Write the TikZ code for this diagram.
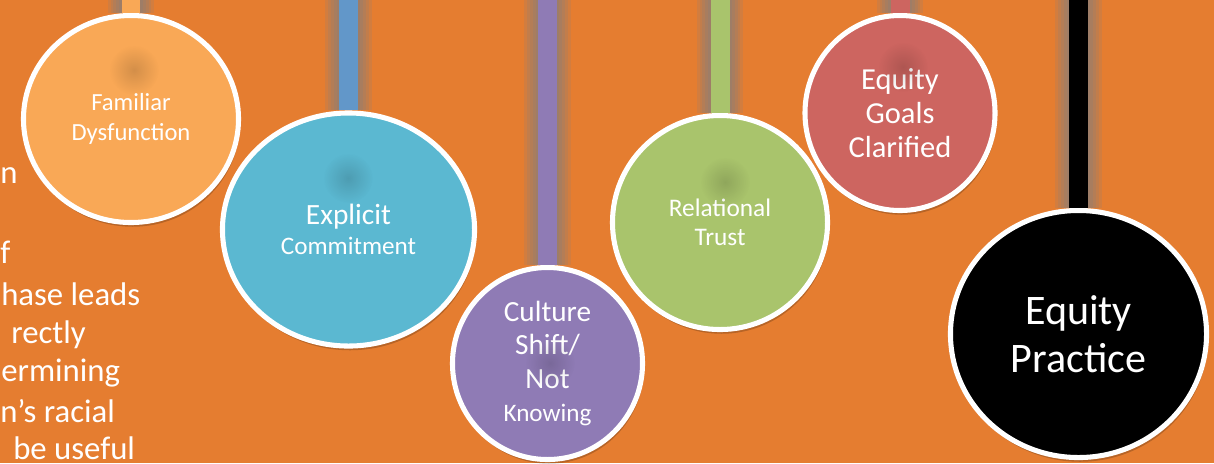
\documentclass[tikz,border=0pt]{standalone}
\usepackage{fontspec}
\setmainfont{Carlito}
\usepackage{tikz}
\usetikzlibrary{shapes.geometric,shadows,fadings}

\definecolor{bgorange}{RGB}{229,125,48}
\definecolor{famorange}{RGB}{249,168,86}
\definecolor{explteal}{RGB}{91,184,209}
\definecolor{explbar}{RGB}{98,151,201}
\definecolor{cultpurple}{RGB}{143,123,181}
\definecolor{relgreen}{RGB}{169,196,108}
\definecolor{goalred}{RGB}{205,101,96}
\definecolor{haze}{RGB}{105,125,150}

\tikzfading[name=spotfade, inner color=transparent!0, outer color=transparent!100]

\tikzset{
  bubble/.style={ellipse, draw=white, line width=3.6pt, text=white, align=center, inner sep=0pt,
    drop shadow={shadow xshift=1pt, shadow yshift=-3pt, opacity=0.2, fill=black}},
  hanger/.style={line width=13.5pt},
  sidetext/.style={anchor=base west, inner sep=0pt, text=white, font=\fontsize{23.3}{27}\selectfont},
}

\begin{document}
\begin{tikzpicture}[x=0.025cm, y=-0.025cm]
    % background
    \fill[bgorange] (0,0) rectangle (1214,463);
    \useasboundingbox (0,0) rectangle (1214,463);

    % side text
    \node[sidetext] (side1) at (0,183) {n};
    \node[sidetext] (side2) at (0,263) {f};
    \node[sidetext] (side3) at (1,305) {hase leads};
    \node[sidetext] (side4) at (11,343) {rectly};
    \node[sidetext] (side5) at (1,381) {ermining};
    \node[sidetext] (side6) at (0,422) {n’s racial};
    \node[sidetext] (side7) at (13,459) {be useful};

    % circles
    \node[bubble, fill=famorange, minimum width=5.375cm, minimum height=5.175cm,
      font=\fontsize{17.5}{21.3}\selectfont] (fam) at (131,119) {Familiar\\Dysfunction};
    \node[bubble, fill=explteal, minimum width=6.3cm, minimum height=5.825cm,
      font=\fontsize{20.9}{21.3}\selectfont] (expl) at (348.5,229.5)
      {Explicit\\\fontsize{17.9}{21.3}\selectfont Commitment};
    \node[bubble, fill=cultpurple, minimum width=4.75cm, minimum height=4.8cm,
      font=\fontsize{20.8}{23.7}\selectfont] (cult) at (547.5,363.5)
      {Culture\\Shift/\\Not\\\fontsize{17.9}{23.7}\selectfont Knowing};
    \node[bubble, fill=relgreen, minimum width=5.375cm, minimum height=5.35cm,
      font=\fontsize{18}{20.6}\selectfont] (rel) at (720,222.5) {Relational\\Trust};
    \node[bubble, fill=goalred, minimum width=4.75cm, minimum height=4.875cm,
      font=\fontsize{21.7}{24.2}\selectfont] (goals) at (900,113) {Equity\\Goals\\Clarified};
    \node[bubble, fill=black, minimum width=6.4cm, minimum height=6.175cm,
      font=\fontsize{29.9}{34.1}\selectfont] (prac) at (1078.5,334) {Equity\\Practice};

    % dark spots under the bars
    \foreach \sx/\sy in {134/70, 348/178, 550/363, 725/182, 903/67}
      \fill[black, opacity=0.15, path fading=spotfade] (\sx,\sy) circle (25);

    % hanging bars
    \foreach \n/\c in {fam/famorange, expl/explbar, cult/cultpurple, rel/relgreen, goals/goalred, prac/black} {
      \coordinate (\n top) at (\n.north |- 0,-5);
      \foreach \w in {33,29,25,21,17}
        \draw[haze, opacity=0.15, line width=\w pt] (\n top) -- (\n.north);
      \draw[hanger, \c] (\n top) -- (\n.north);
    }
\end{tikzpicture}
\end{document}
